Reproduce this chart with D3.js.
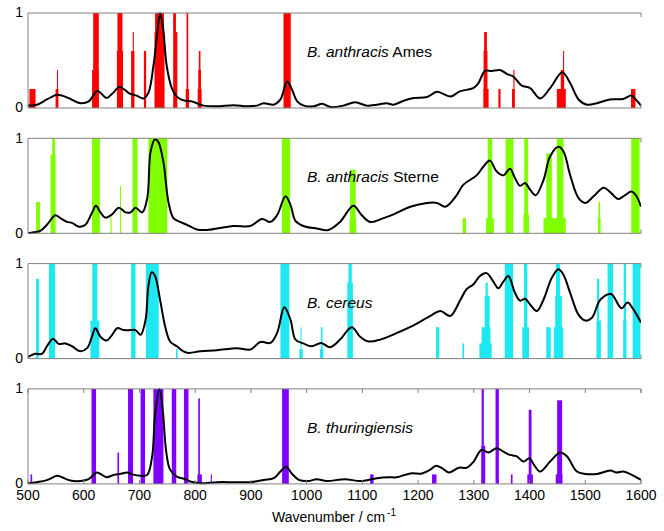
<!DOCTYPE html>
<html><head><meta charset="utf-8">
<script src="https://cdn.jsdelivr.net/npm/d3@7"></script>
<style>body{margin:0;background:#fff}svg{display:block}text{font-family:Arial,"Liberation Sans",sans-serif}</style>
</head><body>
<svg id="c" width="664" height="531"></svg>
<script>
// ---- Data ----
const panelNames = [["B. anthracis", " Ames"], ["B. anthracis", " Sterne"], ["B. cereus", ""], ["B. thuringiensis", ""]];
const barColors = ["#ff0000", "#80ff00", "#1ee8f0", "#8000ff"];
const xTicks = [500, 600, 700, 800, 900, 1000, 1100, 1200, 1300, 1400, 1500, 1600];
const yTicks = [0, 1];

// bars: [wavenumber center, band width (cm-1), relative height]
const amesBars = [[508,11,0.2],[552,5,0.2],[553,2,0.4],[622,10,1],[621,12,0.4],[665,9,1],[665,11,0.6],
  [688,6,0.6],[689,2,0.8],[710,4,0.6],[736,16,1],[736,18,0.8],[763,5,1],[765,6,0.8],[786,3,1],[786,6,0.2],
  [808,3,0.6],[808,5,0.4],[808,7,0.2],[965,13,1],[1321,5,0.8],[1321,7,0.6],[1322,9,0.2],[1346,4,0.2],
  [1372,2,0.4],[1371,5,0.2],[1457,16,0.2],[1459,6,0.4],[1461,2,0.6],[1586,8,0.2]];
const sterneBars = [[518,7,0.33],[546,5,1],[545,9,0.83],[622,14,1],[649,2,0.17],[666,2,0.5],[692,9,1],
  [733,34,1],[963,15,1],[1083,10,0.67],[1083,12,0.16],[1283,6,0.16],[1329,8,1],[1329,14,0.16],[1364,14,1],
  [1394,7,1],[1394,10,0.2],[1435,10,0.84],[1445,40,0.16],[1455,12,1],[1525,3,0.33],[1525,5,0.16],[1590,15,1]];
const cereusBars = [[517,5,0.84],[543,11,1],[620,9,1],[620,16,0.4],[689,8,1],[723,23,1],[767,3,0.1],
  [961,16,1],[990,2,0.33],[990,6,0.1],[1027,3,0.33],[1027,6,0.1],[1078,6,1],[1078,10,0.8],[1235,6,0.33],
  [1281,3,0.16],[1321,22,0.16],[1322,16,0.33],[1324,9,0.66],[1323,4,0.8],[1363,15,1],[1393,6,1],[1393,12,0.33],
  [1434,8,0.33],[1451,7,1],[1452,12,0.66],[1452,17,0.33],[1523,4,0.84],[1524,8,0.4],[1545,10,1],
  [1571,4,1],[1571,6,0.4],[1592,14,1]];
const thurBars = [[506,3,0.1],[618,8,1],[662,3,0.33],[684,9,1],[706,8,1],[734,18,1],[762,8,1],[784,8,1],
  [807,3,0.9],[808,8,0.1],[829,2,0.1],[962,12,1],[1117,6,0.1],[1229,8,0.1],[1316,4,1],[1317,7,0.4],
  [1342,6,1],[1368,3,0.1],[1401,5,0.78],[1401,10,0.1],[1454,9,0.88],[1453,12,0.1]];

// spectra: [wavenumber, normalized intensity]
const amesSpec = [[500,0.025],[516,0.035],[534,0.09],[552,0.14],[561,0.13],[576,0.095],[594,0.05],[609,0.07],
  [624,0.18],[630,0.16],[641,0.105],[651,0.15],[664,0.22],[674,0.19],[683,0.15],[695,0.13],[707,0.1],[716,0.16],
  [725,0.44],[732,0.79],[737,1.0],[742,0.86],[749,0.44],[758,0.21],[767,0.12],[779,0.08],[794,0.07],[803,0.05],
  [815,0.025],[839,0.018],[869,0.03],[893,0.018],[911,0.025],[923,0.05],[941,0.035],[953,0.09],[965,0.28],
  [974,0.19],[983,0.07],[995,0.025],[1013,0.018],[1028,0.045],[1043,0.01],[1066,0.025],[1087,0.06],[1108,0.025],
  [1126,0.035],[1144,0.05],[1156,0.035],[1174,0.077],[1192,0.105],[1216,0.115],[1234,0.17],[1258,0.12],
  [1275,0.175],[1299,0.21],[1308,0.26],[1320,0.39],[1332,0.39],[1347,0.4],[1359,0.36],[1371,0.33],[1386,0.235],
  [1401,0.21],[1419,0.1],[1437,0.21],[1459,0.375],[1473,0.26],[1488,0.09],[1503,0.035],[1521,0.05],[1544,0.09],
  [1568,0.095],[1583,0.13],[1592,0.08],[1600,0.025]];
const sterneSpec = [[500,0],[510,0.01],[522,0.025],[534,0.09],[549,0.19],[558,0.16],[570,0.12],[579,0.11],
  [591,0.07],[603,0.09],[615,0.22],[622,0.29],[630,0.22],[639,0.165],[651,0.2],[663,0.27],[675,0.22],[684,0.22],
  [693,0.27],[705,0.22],[714,0.37],[720,0.86],[728,0.99],[734,0.96],[743,0.75],[752,0.33],[761,0.16],[773,0.12],
  [785,0.09],[803,0.04],[821,0.035],[869,0.077],[899,0.077],[920,0.15],[935,0.12],[947,0.19],[962,0.39],
  [971,0.3],[980,0.13],[994,0.077],[1018,0.05],[1039,0.035],[1060,0.12],[1084,0.29],[1099,0.19],[1114,0.12],
  [1138,0.16],[1156,0.2],[1186,0.28],[1216,0.32],[1234,0.32],[1249,0.28],[1269,0.4],[1281,0.51],[1305,0.61],
  [1317,0.7],[1329,0.765],[1341,0.65],[1353,0.61],[1365,0.68],[1374,0.58],[1383,0.5],[1392,0.53],[1401,0.46],
  [1411,0.4],[1425,0.56],[1437,0.81],[1452,0.91],[1461,0.86],[1473,0.61],[1488,0.37],[1500,0.32],[1515,0.39],
  [1533,0.48],[1547,0.42],[1559,0.36],[1571,0.4],[1583,0.44],[1592,0.39],[1600,0.28]];
const cereusSpec = [[500,0.018],[513,0.05],[525,0.05],[534,0.13],[545,0.21],[555,0.155],[567,0.16],[579,0.13],
  [594,0.077],[606,0.11],[615,0.235],[621,0.32],[630,0.23],[641,0.19],[651,0.25],[660,0.32],[672,0.3],[684,0.3],
  [693,0.3],[702,0.25],[711,0.41],[716,0.76],[722,0.91],[728,0.87],[737,0.62],[746,0.34],[755,0.18],[767,0.13],
  [779,0.077],[788,0.06],[809,0.077],[839,0.088],[875,0.11],[899,0.095],[917,0.175],[935,0.165],[947,0.27],
  [960,0.54],[971,0.41],[980,0.2],[994,0.16],[1009,0.13],[1026,0.165],[1042,0.12],[1060,0.2],[1081,0.33],
  [1096,0.23],[1111,0.18],[1132,0.2],[1162,0.27],[1192,0.35],[1222,0.45],[1240,0.5],[1258,0.45],[1276,0.62],
  [1287,0.73],[1299,0.78],[1311,0.87],[1323,0.9],[1335,0.81],[1344,0.74],[1353,0.81],[1362,0.87],[1374,0.69],
  [1383,0.61],[1392,0.63],[1401,0.57],[1413,0.5],[1425,0.62],[1440,0.85],[1452,0.94],[1461,0.88],[1473,0.69],
  [1488,0.46],[1500,0.4],[1512,0.43],[1527,0.62],[1546,0.68],[1565,0.53],[1576,0.59],[1586,0.52],[1600,0.38]];
const thurSpec = [[500,0.007],[516,0.018],[534,0.04],[552,0.085],[561,0.07],[576,0.035],[594,0.03],[609,0.05],
  [623,0.12],[630,0.105],[641,0.07],[654,0.095],[669,0.11],[678,0.12],[687,0.1],[702,0.085],[714,0.095],
  [723,0.3],[728,0.73],[736,1.0],[742,0.76],[748,0.34],[755,0.15],[767,0.077],[782,0.05],[791,0.025],[809,0.007],
  [839,0.018],[869,0.018],[899,0.018],[923,0.042],[941,0.06],[953,0.13],[963,0.18],[974,0.105],[986,0.042],
  [1003,0.03],[1018,0.05],[1036,0.03],[1069,0.05],[1096,0.03],[1126,0.06],[1147,0.07],[1162,0.07],[1186,0.11],
  [1207,0.11],[1222,0.15],[1232,0.19],[1243,0.165],[1255,0.12],[1273,0.17],[1287,0.17],[1299,0.23],[1314,0.36],
  [1326,0.33],[1341,0.375],[1353,0.34],[1365,0.305],[1377,0.29],[1389,0.235],[1400,0.27],[1408,0.2],[1419,0.13],
  [1437,0.235],[1455,0.33],[1467,0.29],[1485,0.13],[1500,0.105],[1521,0.105],[1545,0.14],[1556,0.12],[1568,0.13],
  [1580,0.105],[1600,0.042]];

const allBars = [amesBars, sterneBars, cereusBars, thurBars];
const allSpec = [amesSpec, sterneSpec, cereusSpec, thurSpec];

// ---- Layout ----
const svg = d3.select("#c");
const left = 28, right = 641, firstTop = 13, panelH = 95, step = 125.3;
const x = d3.scaleLinear().domain([500, 1600]).range([left, right]);
const frame = "#808080";

allBars.forEach((bars, i) => {
  const top = firstTop + i * step;
  const y = d3.scaleLinear().domain([0, 1]).range([top + panelH, top]);
  const g = svg.append("g");
  const clipId = "clip" + i;
  svg.append("clipPath").attr("id", clipId).append("rect")
    .attr("x", left).attr("y", top - 1).attr("width", right - left).attr("height", panelH + 2);
  const inner = g.append("g").attr("clip-path", `url(#${clipId})`);
  inner.selectAll("rect.bar").data(bars.slice().sort((a, b) => b[1] - a[1])).join("rect")
    .attr("class", "bar")
    .attr("x", d => x(d[0] - d[1] / 2))
    .attr("width", d => Math.max(1, x(d[0] + d[1] / 2) - x(d[0] - d[1] / 2)))
    .attr("y", d => y(d[2]))
    .attr("height", d => y(0) - y(d[2]))
    .attr("fill", barColors[i]);
  inner.append("path").datum(allSpec[i])
    .attr("d", d3.line().x(d => x(d[0])).y(d => y(d[1])).curve(d3.curveCatmullRom.alpha(0.5)))
    .attr("fill", "none").attr("stroke", "#000").attr("stroke-width", 2).attr("stroke-linejoin", "round");
  g.append("line").attr("x1", left).attr("x2", right).attr("y1", top).attr("y2", top).attr("stroke", frame);
  g.append("line").attr("x1", left).attr("x2", right).attr("y1", top + panelH).attr("y2", top + panelH).attr("stroke", frame);
  g.append("line").attr("x1", left).attr("x2", left).attr("y1", top).attr("y2", top + panelH).attr("stroke", frame);
  g.append("line").attr("x1", right).attr("x2", right).attr("y1", top).attr("y2", top + 4).attr("stroke", frame);
  g.append("line").attr("x1", right).attr("x2", right).attr("y1", top + panelH - 4).attr("y2", top + panelH).attr("stroke", frame);
  g.selectAll("text.yt").data(yTicks).join("text").attr("class", "yt")
    .attr("x", left - 5).attr("y", d => y(d)).attr("dy", "0.3em")
    .attr("text-anchor", "end").attr("font-size", 14).text(d => d);
  const lab = g.append("text").attr("x", 307).attr("y", top + 44).attr("font-size", 15.5);
  lab.append("tspan").attr("font-style", "italic").text(panelNames[i][0]);
  if (panelNames[i][1]) lab.append("tspan").text(panelNames[i][1]);

  if (i === 3) {
    const tg = g.append("g");
    tg.selectAll("line.tb").data(xTicks).join("line").attr("class", "tb")
      .attr("x1", d => x(d)).attr("x2", d => x(d)).attr("y1", top + panelH).attr("y2", top + panelH - 4).attr("stroke", frame);
    tg.selectAll("line.tt").data(xTicks).join("line").attr("class", "tt")
      .attr("x1", d => x(d)).attr("x2", d => x(d)).attr("y1", top).attr("y2", top + 4).attr("stroke", frame);
    tg.selectAll("text.xt").data(xTicks).join("text").attr("class", "xt")
      .attr("x", d => x(d)).attr("y", top + panelH + 16).attr("text-anchor", "middle").attr("font-size", 14).text(d => d);
    const t = svg.append("text").attr("x", 334).attr("y", 522).attr("text-anchor", "middle").attr("font-size", 14);
    t.append("tspan").text("Wavenumber / cm");
    t.append("tspan").attr("font-size", 10).attr("dy", -6).attr("dx", 2).text("-1");
  }
});
</script>
</body></html>
